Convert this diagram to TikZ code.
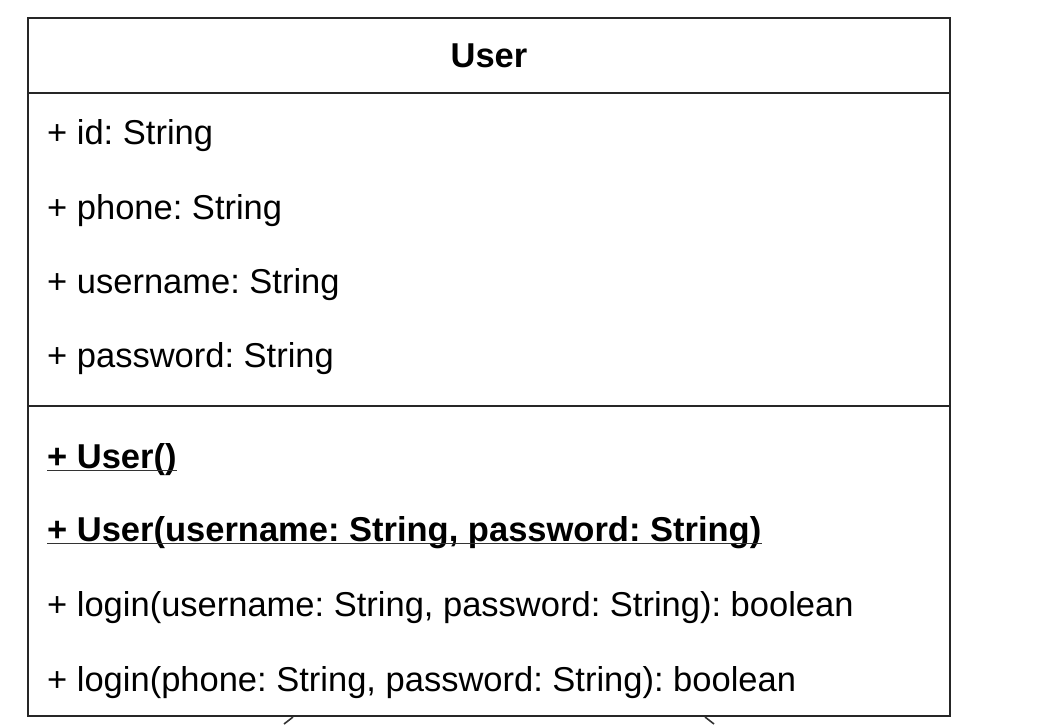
\documentclass[tikz,border=0pt]{standalone}
\usepackage{fontspec}
\setmainfont{Liberation Sans}
\frenchspacing
\begin{document}
\begin{tikzpicture}[x=1pt,y=-1pt,
  frame/.style={draw=black!85,line width=2.4pt},
  member/.style={anchor=base west,inner sep=0pt,font=\fontsize{34.5}{38}\selectfont},
  ctor/.style={member,font=\fontsize{34.5}{38}\selectfont\bfseries},
  ul/.style={draw=black!80,line width=1.2pt},
  tip/.style={draw=black!80,line width=1.6pt}]
\useasboundingbox (0,0) rectangle (1048,724);
% class box
\coordinate (tl) at (28,18);
\coordinate (br) at (950,716);
\draw[frame] (tl) rectangle (br);
\draw[frame] (28,93) -- (950,93);
\draw[frame] (28,406) -- (950,406);
% title
\node[anchor=base,inner sep=0pt,font=\fontsize{34.5}{38}\selectfont\bfseries] (title) at (489,67) {User};
% attributes
\node[member] (a1) at (47,144) {+ id: String};
\node[member] (a2) at (47,219) {+ phone: String};
\node[member] (a3) at (47,293) {+ username: String};
\node[member] (a4) at (47,367) {+ password: String};
% operations
\node[ctor] (o1) at (47,468) {+ User()};
\node[ctor] (o2) at (47,541) {+ User(username: String, password: String)};
\node[member] (o3) at (47,616) {+ login(username: String, password: String): boolean};
\node[member] (o4) at (47,691) {+ login(phone: String, password: String): boolean};
\draw[ul] ([yshift=-2.5pt]o1.base west) -- ([yshift=-2.5pt]o1.base east);
\draw[ul] ([yshift=-2.5pt]o2.base west) -- ([yshift=-2.5pt]o2.base east);
% cut-off arrow tips below the box
\coordinate (t1) at (293,717);
\coordinate (t2) at (705,717);
\draw[tip] (t1) -- ++(-9,7);
\draw[tip] (t2) -- ++(9,7);
\end{tikzpicture}
\end{document}
